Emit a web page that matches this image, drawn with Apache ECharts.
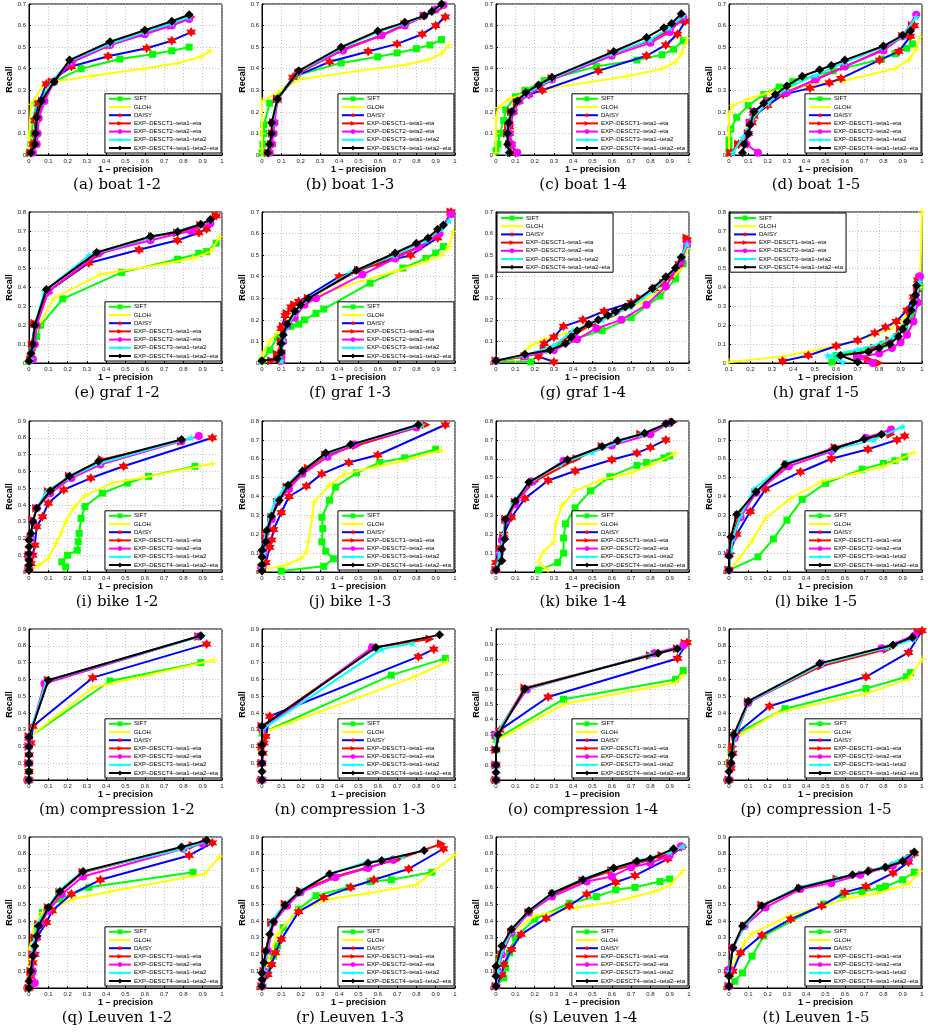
<!DOCTYPE html>
<html>
<head>
<meta charset="utf-8">
<script src="https://cdn.jsdelivr.net/npm/echarts@6/dist/echarts.min.js"></script>
<style>
html, body { margin: 0; padding: 0; background: #fff; }
#main { width: 928px; height: 1036px; }
</style>
</head>
<body>
<div id="main"></div>
<script>
// descriptor names, in legend order
var names = ['SIFT', 'GLOH', 'DAISY',
  'EXP\u2013DESCT1\u2013teta1\u2013eta', 'EXP\u2013DESCT2\u2013teta2\u2013eta',
  'EXP\u2013DESCT3\u2013teta1\u2013teta2', 'EXP\u2013DESCT4\u2013teta1\u2013teta2\u2013eta'];

var captions = ['(a) boat 1-2', '(b) boat 1-3', '(c) boat 1-4', '(d) boat 1-5',
  '(e) graf 1-2', '(f) graf 1-3', '(g) graf 1-4', '(h) graf 1-5',
  '(i) bike 1-2', '(j) bike 1-3', '(k) bike 1-4', '(l) bike 1-5',
  '(m) compression 1-2', '(n) compression 1-3', '(o) compression 1-4', '(p) compression 1-5',
  '(q) Leuven 1-2', '(r) Leuven 1-3', '(s) Leuven 1-4', '(t) Leuven 1-5'];

var yMax = [0.7, 0.7, 0.7, 0.7, 0.8, 0.7, 0.7, 0.8, 0.9, 0.8, 0.8, 0.8, 0.9, 0.9, 1, 0.9, 0.9, 0.9, 0.9, 0.9];
var xMin = [0, 0, 0, 0, 0, 0, 0, 0.1, 0, 0, 0, 0, 0, 0, 0, 0, 0, 0, 0, 0];
var legendAtTop = [6, 7];

// each panel: [SIFT, GLOH, DAISY, DESCT1, DESCT2, DESCT3, DESCT4], points are [1-precision, recall]
var boat12 = [
  [[0,0.01],[0.01,0.05],[0.015,0.1],[0.02,0.16],[0.04,0.24],[0.13,0.34],[0.27,0.40],[0.47,0.445],[0.64,0.467],[0.74,0.483],[0.83,0.50]],
  [[0,0.02],[0,0.08],[0.005,0.15],[0.01,0.235],[0.07,0.32],[0.13,0.34],[0.32,0.366],[0.59,0.40],[0.77,0.425],[0.89,0.455],[0.94,0.483]],
  [[0.01,0.01],[0.02,0.05],[0.035,0.10],[0.03,0.16],[0.05,0.24],[0.09,0.33],[0.22,0.41],[0.41,0.458],[0.61,0.495],[0.74,0.53],[0.84,0.57]],
  [[0.01,0.01],[0.03,0.05],[0.04,0.10],[0.05,0.18],[0.07,0.25],[0.12,0.34],[0.22,0.43],[0.42,0.51],[0.60,0.565],[0.74,0.60],[0.84,0.64]],
  [[0.02,0.01],[0.04,0.05],[0.045,0.10],[0.05,0.17],[0.08,0.25],[0.13,0.34],[0.22,0.43],[0.42,0.51],[0.60,0.56],[0.74,0.60],[0.83,0.63]],
  [[0.01,0.01],[0.03,0.05],[0.035,0.1],[0.04,0.17],[0.065,0.25],[0.12,0.34],[0.21,0.435],[0.42,0.515],[0.60,0.57],[0.74,0.61],[0.83,0.64]],
  [[0.01,0.01],[0.03,0.05],[0.035,0.10],[0.04,0.175],[0.065,0.25],[0.13,0.34],[0.21,0.44],[0.42,0.525],[0.60,0.578],[0.74,0.62],[0.83,0.65]]
];
var boat13 = [
  [[0,0.01],[0.005,0.05],[0.01,0.1],[0.01,0.14],[0.04,0.24],[0.18,0.37],[0.41,0.427],[0.6,0.455],[0.7,0.473],[0.8,0.493],[0.87,0.51],[0.93,0.535]],
  [[0,0.01],[0,0.1],[0,0.25],[0.1,0.30],[0.19,0.35],[0.5,0.39],[0.75,0.42],[0.86,0.44],[0.93,0.47],[0.97,0.51]],
  [[0.035,0.01],[0.05,0.05],[0.055,0.1],[0.06,0.15],[0.08,0.255],[0.16,0.36],[0.35,0.432],[0.55,0.48],[0.7,0.515],[0.83,0.56],[0.9,0.60],[0.95,0.64]],
  [[0.035,0.01],[0.05,0.05],[0.055,0.1],[0.06,0.15],[0.08,0.26],[0.19,0.38],[0.42,0.49],[0.62,0.555],[0.74,0.605],[0.84,0.645],[0.9,0.67],[0.94,0.69]],
  [[0.04,0.01],[0.05,0.05],[0.06,0.1],[0.065,0.15],[0.08,0.26],[0.19,0.385],[0.42,0.485],[0.62,0.555],[0.74,0.6],[0.84,0.645],[0.9,0.675],[0.94,0.695]],
  [[0.03,0.01],[0.04,0.05],[0.05,0.1],[0.055,0.15],[0.08,0.26],[0.19,0.385],[0.41,0.495],[0.6,0.57],[0.74,0.61],[0.84,0.645],[0.88,0.665],[0.93,0.695]],
  [[0.03,0.01],[0.04,0.05],[0.05,0.1],[0.05,0.15],[0.08,0.26],[0.19,0.39],[0.41,0.50],[0.6,0.575],[0.74,0.615],[0.84,0.645],[0.88,0.665],[0.93,0.70]]
];
var boat14 = [
  [[0,0.02],[0.01,0.05],[0.02,0.1],[0.04,0.16],[0.05,0.21],[0.1,0.27],[0.15,0.30],[0.25,0.345],[0.52,0.41],[0.73,0.44],[0.86,0.465],[0.92,0.49],[0.97,0.53]],
  [[0,0.01],[0,0.1],[0,0.17],[0.01,0.22],[0.07,0.26],[0.14,0.28],[0.28,0.31],[0.68,0.365],[0.86,0.4],[0.93,0.43],[0.96,0.47],[0.99,0.54]],
  [[0.1,0.01],[0.08,0.05],[0.07,0.1],[0.07,0.13],[0.09,0.2],[0.12,0.25],[0.17,0.28],[0.24,0.30],[0.53,0.39],[0.78,0.46],[0.88,0.51],[0.94,0.56],[0.98,0.62]],
  [[0.08,0.01],[0.07,0.05],[0.06,0.1],[0.065,0.13],[0.08,0.2],[0.11,0.245],[0.16,0.28],[0.29,0.355],[0.6,0.47],[0.8,0.53],[0.9,0.58],[0.97,0.63]],
  [[0.11,0.01],[0.08,0.05],[0.07,0.1],[0.07,0.15],[0.09,0.2],[0.12,0.25],[0.17,0.28],[0.29,0.35],[0.6,0.46],[0.8,0.52],[0.9,0.57],[0.97,0.64]],
  [[0.06,0.01],[0.06,0.05],[0.055,0.1],[0.06,0.15],[0.08,0.2],[0.11,0.25],[0.16,0.285],[0.29,0.355],[0.6,0.47],[0.8,0.535],[0.9,0.59],[0.97,0.645]],
  [[0.07,0.01],[0.06,0.05],[0.06,0.1],[0.065,0.15],[0.08,0.2],[0.11,0.25],[0.155,0.29],[0.22,0.325],[0.29,0.36],[0.61,0.48],[0.78,0.545],[0.87,0.59],[0.91,0.61],[0.96,0.655]]
];
var boat15 = [
  [[0,0.01],[0,0.04],[0,0.07],[0.01,0.12],[0.04,0.175],[0.1,0.23],[0.18,0.28],[0.26,0.315],[0.33,0.34],[0.54,0.39],[0.79,0.445],[0.86,0.47],[0.92,0.495],[0.95,0.515]],
  [[0,0.01],[0,0.12],[0,0.19],[0.02,0.23],[0.1,0.26],[0.21,0.29],[0.38,0.32],[0.6,0.345],[0.86,0.40],[0.93,0.44],[0.97,0.49],[0.99,0.55]],
  [[0.01,0.01],[0.05,0.05],[0.1,0.1],[0.12,0.15],[0.13,0.18],[0.2,0.23],[0.28,0.28],[0.42,0.31],[0.52,0.335],[0.58,0.355],[0.78,0.44],[0.88,0.48],[0.94,0.55],[0.96,0.6]],
  [[0.01,0.01],[0.05,0.05],[0.1,0.1],[0.11,0.15],[0.13,0.2],[0.2,0.25],[0.3,0.29],[0.45,0.35],[0.6,0.41],[0.8,0.49],[0.9,0.55],[0.95,0.6]],
  [[0.15,0.01],[0.09,0.05],[0.1,0.1],[0.11,0.15],[0.13,0.2],[0.2,0.25],[0.3,0.29],[0.45,0.35],[0.6,0.41],[0.8,0.485],[0.9,0.55],[0.97,0.65]],
  [[0.02,0.01],[0.07,0.08],[0.1,0.12],[0.12,0.17],[0.2,0.24],[0.3,0.31],[0.45,0.37],[0.6,0.43],[0.8,0.5],[0.9,0.55],[0.97,0.64]],
  [[0.07,0.01],[0.08,0.05],[0.1,0.1],[0.11,0.14],[0.13,0.2],[0.18,0.24],[0.24,0.28],[0.3,0.32],[0.38,0.365],[0.47,0.395],[0.53,0.415],[0.6,0.44],[0.8,0.505],[0.9,0.555],[0.94,0.575]]
];
var graf12 = [
  [[0,0.01],[0.02,0.08],[0.04,0.14],[0.06,0.2],[0.175,0.34],[0.48,0.48],[0.77,0.55],[0.88,0.58],[0.92,0.59],[0.97,0.635]],
  [[0,0.01],[0.02,0.1],[0.05,0.2],[0.13,0.345],[0.37,0.47],[0.7,0.525],[0.85,0.555],[0.94,0.59],[0.99,0.67]],
  [[0.01,0.02],[0.015,0.1],[0.03,0.2],[0.1,0.38],[0.31,0.53],[0.57,0.6],[0.77,0.65],[0.88,0.69],[0.92,0.71],[0.97,0.78]],
  [[0.01,0.02],[0.02,0.1],[0.03,0.21],[0.1,0.38],[0.37,0.58],[0.64,0.67],[0.77,0.69],[0.89,0.73],[0.97,0.78]],
  [[0.02,0.02],[0.03,0.1],[0.04,0.2],[0.1,0.38],[0.36,0.58],[0.63,0.65],[0.84,0.70],[0.94,0.74]],
  [[0.01,0.02],[0.02,0.1],[0.03,0.2],[0.08,0.38],[0.31,0.57],[0.63,0.665],[0.77,0.70],[0.89,0.735],[0.94,0.76]],
  [[0,0.01],[0.01,0.05],[0.02,0.1],[0.03,0.2],[0.09,0.39],[0.35,0.585],[0.63,0.67],[0.77,0.695],[0.89,0.735],[0.94,0.76]]
];
var graf13 = [
  [[0,0.01],[0.04,0.06],[0.08,0.12],[0.15,0.17],[0.19,0.18],[0.22,0.2],[0.28,0.23],[0.32,0.25],[0.56,0.37],[0.73,0.44],[0.85,0.485],[0.9,0.51],[0.94,0.54]],
  [[0,0.02],[0,0.04],[0.04,0.1],[0.09,0.15],[0.16,0.23],[0.25,0.3],[0.44,0.36],[0.69,0.425],[0.85,0.47],[0.93,0.5],[0.97,0.54],[0.99,0.61]],
  [[0.09,0.01],[0.1,0.05],[0.1,0.1],[0.1,0.16],[0.12,0.22],[0.15,0.26],[0.19,0.285],[0.4,0.4],[0.6,0.46],[0.77,0.50],[0.91,0.58],[0.98,0.70]],
  [[0.05,0.01],[0.08,0.04],[0.1,0.1],[0.11,0.17],[0.13,0.23],[0.17,0.27],[0.24,0.30],[0.5,0.43],[0.68,0.49],[0.82,0.54],[0.92,0.6],[0.98,0.70]],
  [[0.1,0.01],[0.1,0.03],[0.11,0.1],[0.13,0.17],[0.17,0.21],[0.22,0.27],[0.28,0.3],[0.52,0.41],[0.69,0.485],[0.81,0.535],[0.92,0.6],[0.98,0.69]],
  [[0.1,0.01],[0.1,0.05],[0.11,0.1],[0.13,0.17],[0.17,0.23],[0.24,0.3],[0.46,0.42],[0.69,0.5],[0.85,0.57],[0.93,0.62],[0.97,0.66]],
  [[0,0.01],[0.08,0.02],[0.1,0.05],[0.1,0.09],[0.11,0.13],[0.13,0.18],[0.17,0.24],[0.2,0.27],[0.24,0.3],[0.49,0.43],[0.69,0.51],[0.8,0.555],[0.86,0.58],[0.91,0.62],[0.94,0.64]]
];
var graf14 = [
  [[0,0.01],[0.18,0.005],[0.25,0.06],[0.4,0.11],[0.55,0.15],[0.7,0.21],[0.85,0.31],[0.93,0.39],[0.97,0.46],[0.99,0.54]],
  [[0,0.01],[0.1,0.02],[0.18,0.08],[0.25,0.11],[0.45,0.16],[0.6,0.22],[0.75,0.28],[0.87,0.35],[0.95,0.43],[0.99,0.53]],
  [[0.3,0.005],[0.22,0.03],[0.25,0.09],[0.3,0.12],[0.35,0.17],[0.45,0.2],[0.56,0.24],[0.7,0.28],[0.82,0.345],[0.9,0.4],[0.95,0.46],[0.99,0.57]],
  [[0,0.01],[0.15,0.03],[0.25,0.06],[0.4,0.13],[0.5,0.18],[0.62,0.23],[0.75,0.3],[0.87,0.37],[0.95,0.45],[0.99,0.58]],
  [[0,0.01],[0.15,0.03],[0.3,0.06],[0.42,0.11],[0.52,0.16],[0.65,0.2],[0.78,0.27],[0.88,0.355],[0.96,0.47],[0.99,0.55]],
  [[0,0.01],[0.15,0.035],[0.3,0.08],[0.4,0.15],[0.55,0.2],[0.7,0.26],[0.82,0.34],[0.93,0.44],[0.99,0.55]],
  [[0,0.01],[0.15,0.04],[0.28,0.06],[0.36,0.09],[0.39,0.12],[0.42,0.15],[0.48,0.18],[0.53,0.2],[0.58,0.22],[0.62,0.24],[0.67,0.26],[0.7,0.27],[0.81,0.345],[0.88,0.4],[0.93,0.44],[0.96,0.49]]
];
var graf15 = [
  [[0.58,0.005],[0.6,0.04],[0.75,0.07],[0.82,0.1],[0.88,0.14],[0.92,0.18],[0.95,0.25],[0.97,0.33],[0.99,0.4]],
  [[0.1,0.005],[0.35,0.035],[0.6,0.09],[0.75,0.14],[0.85,0.18],[0.92,0.24],[0.96,0.3],[0.99,0.4],[1.0,0.8]],
  [[0.35,0.01],[0.47,0.04],[0.6,0.09],[0.7,0.12],[0.78,0.16],[0.83,0.19],[0.88,0.22],[0.93,0.28],[0.96,0.35],[0.98,0.44]],
  [[0.8,0.0],[0.75,0.02],[0.7,0.045],[0.78,0.08],[0.85,0.12],[0.9,0.18],[0.95,0.27],[0.98,0.38],[0.99,0.45]],
  [[0.77,0.0],[0.7,0.03],[0.8,0.05],[0.86,0.08],[0.9,0.11],[0.93,0.15],[0.96,0.22],[0.98,0.32],[0.99,0.46]],
  [[0.63,0.005],[0.56,0.04],[0.7,0.07],[0.8,0.1],[0.87,0.14],[0.92,0.2],[0.96,0.28],[0.99,0.43]],
  [[0.7,0.005],[0.62,0.04],[0.75,0.06],[0.8,0.08],[0.85,0.1],[0.89,0.14],[0.91,0.18],[0.93,0.22],[0.95,0.28],[0.96,0.32],[0.97,0.36],[0.975,0.41]]
];
var bike12 = [
  [[0.19,0.03],[0.17,0.06],[0.2,0.1],[0.25,0.13],[0.255,0.18],[0.26,0.23],[0.27,0.32],[0.29,0.39],[0.38,0.47],[0.51,0.53],[0.62,0.57],[0.86,0.63]],
  [[0,0.01],[0.05,0.04],[0.1,0.08],[0.14,0.17],[0.17,0.24],[0.19,0.3],[0.23,0.38],[0.29,0.455],[0.43,0.53],[0.58,0.56],[0.95,0.645]],
  [[0,0.01],[0.01,0.05],[0.02,0.1],[0.03,0.16],[0.04,0.27],[0.07,0.33],[0.1,0.41],[0.18,0.49],[0.32,0.56],[0.49,0.63],[0.95,0.80]],
  [[0,0.02],[0,0.1],[0.01,0.2],[0.02,0.31],[0.04,0.38],[0.1,0.48],[0.21,0.57],[0.38,0.67],[0.79,0.78]],
  [[0,0.02],[0,0.1],[0.01,0.2],[0.02,0.3],[0.04,0.38],[0.11,0.47],[0.22,0.56],[0.37,0.64],[0.79,0.78],[0.88,0.81]],
  [[0,0.02],[0,0.1],[0.01,0.2],[0.02,0.3],[0.04,0.38],[0.09,0.48],[0.2,0.56],[0.37,0.65],[0.84,0.80]],
  [[0,0.01],[0,0.04],[0,0.07],[0,0.11],[0,0.15],[0,0.19],[0.01,0.23],[0.02,0.3],[0.04,0.38],[0.11,0.485],[0.21,0.57],[0.36,0.66],[0.79,0.79]]
];
var bike13 = [
  [[0.1,0.005],[0.32,0.03],[0.37,0.07],[0.33,0.11],[0.31,0.16],[0.315,0.23],[0.31,0.29],[0.35,0.38],[0.38,0.45],[0.49,0.525],[0.61,0.58],[0.74,0.605],[0.9,0.65]],
  [[0,0.01],[0.13,0.04],[0.2,0.07],[0.23,0.11],[0.24,0.16],[0.26,0.29],[0.27,0.37],[0.35,0.46],[0.43,0.52],[0.6,0.56],[0.7,0.58],[0.93,0.645]],
  [[0,0.01],[0.02,0.05],[0.04,0.13],[0.05,0.17],[0.06,0.225],[0.1,0.315],[0.14,0.40],[0.23,0.455],[0.31,0.52],[0.45,0.58],[0.6,0.62],[0.95,0.78]],
  [[0,0.02],[0.01,0.1],[0.02,0.2],[0.05,0.29],[0.08,0.37],[0.13,0.45],[0.24,0.55],[0.33,0.62],[0.49,0.67],[0.85,0.78]],
  [[0,0.02],[0.01,0.1],[0.02,0.16],[0.05,0.28],[0.08,0.37],[0.14,0.44],[0.21,0.52],[0.34,0.61],[0.48,0.675],[0.8,0.765]],
  [[0,0.02],[0.01,0.1],[0.02,0.2],[0.04,0.3],[0.07,0.38],[0.12,0.45],[0.2,0.53],[0.33,0.625],[0.46,0.675],[0.83,0.78]],
  [[0,0.005],[0,0.04],[0,0.08],[0,0.115],[0.02,0.16],[0.025,0.22],[0.05,0.295],[0.09,0.38],[0.135,0.46],[0.21,0.535],[0.33,0.63],[0.46,0.675],[0.81,0.78]]
];
var bike14 = [
  [[0.22,0.01],[0.32,0.05],[0.35,0.1],[0.35,0.18],[0.36,0.255],[0.41,0.34],[0.49,0.43],[0.59,0.505],[0.73,0.565],[0.78,0.58],[0.87,0.605],[0.9,0.615]],
  [[0.27,0.01],[0.22,0.05],[0.24,0.1],[0.3,0.16],[0.31,0.255],[0.34,0.35],[0.41,0.43],[0.55,0.49],[0.7,0.525],[0.8,0.565],[0.93,0.63]],
  [[0,0.01],[0,0.05],[0.02,0.12],[0.04,0.2],[0.08,0.29],[0.15,0.39],[0.27,0.485],[0.41,0.535],[0.6,0.595],[0.73,0.63],[0.8,0.66],[0.88,0.7]],
  [[0,0.01],[0.03,0.06],[0.03,0.12],[0.04,0.18],[0.05,0.28],[0.1,0.37],[0.2,0.48],[0.42,0.6],[0.55,0.665],[0.75,0.73],[0.92,0.795]],
  [[0,0.01],[0.02,0.1],[0.03,0.17],[0.05,0.27],[0.1,0.36],[0.19,0.48],[0.35,0.59],[0.6,0.67],[0.8,0.73],[0.9,0.79]],
  [[0,0.01],[0.02,0.1],[0.04,0.2],[0.05,0.28],[0.09,0.37],[0.17,0.47],[0.33,0.57],[0.5,0.635],[0.75,0.73],[0.9,0.79]],
  [[0,0.01],[0.03,0.06],[0.03,0.12],[0.045,0.175],[0.05,0.28],[0.1,0.375],[0.17,0.475],[0.37,0.595],[0.55,0.665],[0.63,0.695],[0.77,0.735],[0.88,0.785],[0.91,0.795]]
];
var bike15 = [
  [[0,0.01],[0.15,0.08],[0.23,0.175],[0.3,0.275],[0.38,0.385],[0.5,0.47],[0.69,0.545],[0.8,0.575],[0.86,0.59],[0.91,0.61]],
  [[0,0.01],[0.05,0.07],[0.12,0.165],[0.19,0.285],[0.32,0.39],[0.48,0.48],[0.65,0.52],[0.8,0.56],[0.87,0.59],[0.96,0.635]],
  [[0,0.01],[0,0.09],[0.04,0.2],[0.11,0.32],[0.19,0.44],[0.37,0.53],[0.53,0.6],[0.72,0.65],[0.87,0.7],[0.91,0.72]],
  [[0,0.01],[0.01,0.1],[0.02,0.18],[0.05,0.3],[0.14,0.42],[0.3,0.57],[0.55,0.66],[0.72,0.71],[0.84,0.73]],
  [[0,0.01],[0,0.09],[0.02,0.18],[0.06,0.29],[0.14,0.42],[0.31,0.56],[0.53,0.64],[0.71,0.71],[0.84,0.755]],
  [[0,0.01],[0.01,0.12],[0.02,0.18],[0.06,0.3],[0.13,0.44],[0.3,0.58],[0.55,0.65],[0.75,0.7],[0.9,0.77]],
  [[0,0.01],[0,0.085],[0.01,0.185],[0.04,0.305],[0.14,0.425],[0.29,0.57],[0.55,0.655],[0.7,0.705],[0.79,0.73]]
];
var comp12 = [
  [[0,0],[0,0.05],[0,0.1],[0,0.2],[0,0.255],[0.42,0.59],[0.89,0.70]],
  [[0,0],[0,0.1],[0,0.255],[0.33,0.55],[0.96,0.715]],
  [[0,0],[0,0.05],[0,0.1],[0,0.15],[0.01,0.22],[0.02,0.32],[0.33,0.61],[0.92,0.81]],
  [[0,0],[0,0.1],[0,0.2],[0,0.26],[0.1,0.595],[0.88,0.855]],
  [[0,0],[0,0.1],[0,0.2],[0,0.25],[0.08,0.575],[0.88,0.855]],
  [[0,0],[0,0.1],[0,0.2],[0,0.26],[0.09,0.59],[0.9,0.86]],
  [[0,0],[0,0.05],[0,0.1],[0,0.15],[0,0.2],[0,0.255],[0.1,0.595],[0.89,0.86]]
];
var comp13 = [
  [[0,0],[0,0.1],[0,0.28],[0.67,0.625],[0.95,0.725]],
  [[0,0],[0,0.1],[0,0.28],[0.78,0.61],[0.96,0.705]],
  [[0,0],[0,0.1],[0.005,0.16],[0.01,0.22],[0.02,0.26],[0.04,0.38],[0.81,0.735],[0.89,0.78]],
  [[0,0],[0,0.1],[0,0.2],[0,0.32],[0.58,0.79],[0.87,0.84]],
  [[0,0],[0,0.1],[0,0.3],[0.57,0.79]],
  [[0,0],[0,0.1],[0,0.3],[0.62,0.78],[0.78,0.815]],
  [[0,0],[0,0.05],[0,0.1],[0,0.16],[0,0.21],[0,0.32],[0.59,0.79],[0.92,0.865]]
];
var comp14 = [
  [[0,0],[0,0.1],[0,0.2],[0,0.27],[0.35,0.535],[0.93,0.665],[0.97,0.725]],
  [[0,0],[0,0.1],[0,0.26],[0.36,0.505],[0.93,0.645],[0.97,0.69]],
  [[0,0],[0,0.1],[0,0.2],[0.02,0.33],[0.27,0.55],[0.94,0.805],[0.99,0.91]],
  [[0,0],[0,0.1],[0,0.2],[0,0.3],[0.15,0.61],[0.8,0.825],[0.94,0.87],[0.98,0.905]],
  [[0,0],[0,0.1],[0,0.3],[0.16,0.6],[0.82,0.84],[0.97,0.89]],
  [[0,0],[0,0.1],[0,0.3],[0.15,0.6],[0.8,0.83],[0.95,0.87]],
  [[0,0],[0,0.05],[0,0.1],[0,0.2],[0.01,0.3],[0.15,0.605],[0.84,0.84],[0.94,0.87]]
];
var comp15 = [
  [[0,0],[0,0.1],[0.01,0.18],[0.03,0.27],[0.29,0.425],[0.71,0.545],[0.92,0.615],[0.94,0.64]],
  [[0,0],[0,0.1],[0.03,0.25],[0.25,0.4],[0.71,0.515],[0.93,0.6],[1.0,0.72]],
  [[0,0],[0.01,0.07],[0.02,0.16],[0.03,0.27],[0.21,0.44],[0.71,0.615],[0.93,0.76],[1.0,0.89]],
  [[0,0],[0.01,0.1],[0.02,0.2],[0.04,0.28],[0.1,0.465],[0.48,0.68],[0.82,0.78],[0.98,0.88]],
  [[0,0],[0.01,0.1],[0.03,0.25],[0.1,0.46],[0.48,0.695],[0.79,0.785],[0.96,0.86]],
  [[0,0],[0.01,0.1],[0.03,0.26],[0.1,0.465],[0.48,0.69],[0.82,0.79],[0.96,0.84]],
  [[0,0],[0,0.05],[0.01,0.1],[0.015,0.15],[0.025,0.27],[0.1,0.47],[0.47,0.695],[0.85,0.805],[0.95,0.85]]
];
var leuven12 = [
  [[0,0],[0.01,0.1],[0.02,0.2],[0.04,0.35],[0.07,0.45],[0.16,0.53],[0.31,0.6],[0.85,0.69]],
  [[0,0],[0,0.1],[0,0.22],[0.03,0.38],[0.07,0.45],[0.23,0.53],[0.42,0.575],[0.91,0.68],[0.99,0.785]],
  [[0,0],[0.01,0.07],[0.02,0.15],[0.03,0.2],[0.04,0.3],[0.09,0.39],[0.12,0.46],[0.22,0.56],[0.37,0.645],[0.83,0.79],[0.95,0.865]],
  [[0,0],[0.01,0.1],[0.02,0.2],[0.03,0.3],[0.05,0.38],[0.1,0.48],[0.16,0.57],[0.28,0.69],[0.85,0.85],[0.92,0.87]],
  [[0.03,0.03],[0.02,0.1],[0.02,0.2],[0.04,0.3],[0.06,0.38],[0.1,0.46],[0.17,0.56],[0.28,0.665],[0.8,0.83],[0.9,0.86]],
  [[0,0],[0.01,0.1],[0.02,0.25],[0.04,0.38],[0.1,0.48],[0.16,0.585],[0.28,0.695],[0.8,0.83],[0.92,0.875]],
  [[0,0],[0,0.04],[0.01,0.1],[0.02,0.19],[0.03,0.25],[0.04,0.31],[0.05,0.37],[0.1,0.48],[0.16,0.575],[0.28,0.695],[0.79,0.84],[0.92,0.88]]
];
var leuven13 = [
  [[0,0.01],[0.03,0.1],[0.06,0.19],[0.08,0.25],[0.11,0.36],[0.19,0.47],[0.28,0.55],[0.45,0.6],[0.56,0.635],[0.67,0.645],[0.88,0.69]],
  [[0,0.01],[0.02,0.1],[0.04,0.2],[0.08,0.32],[0.18,0.46],[0.35,0.53],[0.55,0.565],[0.8,0.615],[1.0,0.795]],
  [[0,0.01],[0.03,0.08],[0.05,0.14],[0.07,0.21],[0.1,0.29],[0.19,0.455],[0.32,0.54],[0.46,0.6],[0.58,0.645],[0.76,0.71],[0.94,0.83]],
  [[0,0.01],[0.01,0.1],[0.02,0.22],[0.05,0.39],[0.12,0.5],[0.2,0.58],[0.38,0.665],[0.55,0.72],[0.7,0.765],[0.93,0.86]],
  [[0,0.01],[0.01,0.1],[0.03,0.22],[0.06,0.39],[0.13,0.49],[0.2,0.57],[0.38,0.66],[0.55,0.715],[0.68,0.765]],
  [[0,0.01],[0.01,0.1],[0.02,0.2],[0.05,0.4],[0.12,0.5],[0.2,0.58],[0.35,0.68],[0.54,0.75],[0.73,0.785]],
  [[0,0.01],[0,0.05],[0,0.09],[0.01,0.15],[0.02,0.22],[0.04,0.32],[0.06,0.395],[0.12,0.495],[0.19,0.57],[0.35,0.68],[0.55,0.745],[0.62,0.76],[0.84,0.82]]
];
var leuven14 = [
  [[0,0.01],[0.04,0.06],[0.05,0.12],[0.07,0.21],[0.1,0.3],[0.2,0.41],[0.38,0.505],[0.52,0.545],[0.62,0.585],[0.72,0.6],[0.85,0.635],[0.9,0.65]],
  [[0,0.01],[0,0.1],[0.01,0.2],[0.08,0.33],[0.2,0.43],[0.42,0.48],[0.6,0.51],[0.72,0.545],[0.82,0.575],[0.9,0.61],[0.97,0.7]],
  [[0,0.01],[0.03,0.08],[0.04,0.14],[0.08,0.23],[0.13,0.32],[0.26,0.415],[0.38,0.49],[0.47,0.56],[0.62,0.63],[0.72,0.67],[0.89,0.77],[0.96,0.84]],
  [[0,0.01],[0.01,0.1],[0.03,0.2],[0.08,0.33],[0.17,0.45],[0.3,0.56],[0.45,0.64],[0.6,0.7],[0.73,0.74],[0.86,0.79],[0.97,0.84]],
  [[0,0.01],[0.01,0.1],[0.03,0.2],[0.08,0.33],[0.17,0.45],[0.29,0.545],[0.47,0.635],[0.6,0.665],[0.7,0.72],[0.8,0.745],[0.9,0.79],[0.96,0.845]],
  [[0,0.01],[0.01,0.1],[0.03,0.22],[0.08,0.34],[0.17,0.46],[0.3,0.57],[0.45,0.65],[0.6,0.71],[0.74,0.76],[0.9,0.81],[0.97,0.845]],
  [[0,0.01],[0,0.07],[0,0.13],[0.03,0.25],[0.08,0.35],[0.17,0.46],[0.29,0.565],[0.45,0.645],[0.61,0.715],[0.73,0.755],[0.8,0.77],[0.92,0.83]]
];
var leuven15 = [
  [[0,0.01],[0.03,0.04],[0.07,0.09],[0.12,0.19],[0.18,0.31],[0.49,0.5],[0.59,0.555],[0.69,0.575],[0.78,0.595],[0.81,0.605],[0.9,0.645],[0.96,0.69]],
  [[0,0.01],[0,0.1],[0.04,0.18],[0.08,0.27],[0.12,0.325],[0.31,0.43],[0.62,0.535],[0.77,0.565],[0.93,0.62],[0.99,0.695]],
  [[0,0.01],[0,0.08],[0.02,0.1],[0.06,0.21],[0.17,0.315],[0.32,0.41],[0.48,0.49],[0.6,0.57],[0.71,0.605],[0.85,0.685],[0.93,0.75],[0.96,0.8]],
  [[0,0.01],[0,0.1],[0.02,0.24],[0.08,0.37],[0.17,0.495],[0.37,0.595],[0.56,0.65],[0.74,0.7],[0.83,0.72],[0.92,0.76],[0.96,0.8]],
  [[0,0.01],[0,0.11],[0.02,0.24],[0.08,0.37],[0.19,0.48],[0.37,0.59],[0.53,0.625],[0.68,0.675],[0.85,0.73],[0.93,0.775]],
  [[0,0.01],[0,0.1],[0.02,0.24],[0.08,0.37],[0.17,0.49],[0.36,0.6],[0.56,0.655],[0.8,0.72],[0.95,0.8]],
  [[0,0.01],[0,0.07],[0.02,0.24],[0.07,0.37],[0.17,0.49],[0.36,0.595],[0.64,0.675],[0.72,0.695],[0.81,0.72],[0.9,0.755],[0.96,0.81]]
];

var panels = [boat12, boat13, boat14, boat15, graf12, graf13, graf14, graf15,
  bike12, bike13, bike14, bike15, comp12, comp13, comp14, comp15,
  leuven12, leuven13, leuven14, leuven15];

// marker shapes
var plusPath = 'path://M4.4,0H5.6V4.4H10V5.6H5.6V10H4.4V5.6H0V4.4H4.4Z';
var hexPath = 'path://M5,0L6.4,2.6L9.3,2.5L7.8,5L9.3,7.5L6.4,7.4L5,10L3.6,7.4L0.7,7.5L2.2,5L0.7,2.5L3.6,2.6Z';
var triPath = 'path://M0,0L10,5L0,10Z';
var starPath = 'path://M5,0L6.2,3.6L10,3.6L6.9,5.9L8.1,9.5L5,7.3L1.9,9.5L3.1,5.9L0,3.6L3.8,3.6Z';
var styles = [
  { line: '#00ff00', mark: '#00ff00', symbol: 'rect', size: 7 },
  { line: '#ffff00', mark: '#ffff00', symbol: plusPath, size: 8 },
  { line: '#0000ff', mark: '#ff0000', symbol: hexPath, size: 10 },
  { line: '#ff0000', mark: '#ff0000', symbol: triPath, size: 9 },
  { line: '#ff00ff', mark: '#ff00ff', symbol: 'circle', size: 8 },
  { line: '#00ffff', mark: '#00ffff', symbol: starPath, size: 8 },
  { line: '#000000', mark: '#000000', symbol: 'diamond', size: 9 }
];

var W = 928, H = 1036;
var gridW = 193, gridH = 151;
var colLeft = [29, 262, 496, 729];
var rowTop = [4, 212, 421, 629, 837];

var chart = echarts.init(document.getElementById('main'), null, { renderer: 'canvas' });

var grids = [], xAxes = [], yAxes = [], series = [], legends = [], graphics = [];
var tickFont = { fontSize: 6, color: '#222', fontFamily: 'Liberation Sans' };
var nameFont = { fontSize: 9, fontWeight: 'bold', color: '#000', fontFamily: 'Liberation Sans' };
var gridLine = { show: true, lineStyle: { color: '#b8b8b8', type: [1, 2], width: 0.8 } };

panels.forEach(function (panel, i) {
  var col = i % 4, row = Math.floor(i / 4);
  var left = colLeft[col], top = rowTop[row];
  grids.push({ left: left, top: top, width: gridW, height: gridH, show: true,
    borderColor: '#000', borderWidth: 1, backgroundColor: '#fff' });
  xAxes.push({
    type: 'value', gridIndex: i, min: xMin[i], max: 1, interval: 0.1,
    name: '1 \u2013 precision', nameLocation: 'middle', nameGap: 8, nameTextStyle: nameFont,
    axisLine: { lineStyle: { color: '#000', width: 1 } },
    axisTick: { inside: true, length: 2, lineStyle: { color: '#000' } },
    axisLabel: Object.assign({ margin: 3 }, tickFont),
    splitLine: gridLine
  });
  yAxes.push({
    type: 'value', gridIndex: i, min: 0, max: yMax[i], interval: 0.1,
    name: 'Recall', nameLocation: 'middle', nameGap: 15, nameTextStyle: nameFont,
    axisLine: { lineStyle: { color: '#000', width: 1 } },
    axisTick: { inside: true, length: 2, lineStyle: { color: '#000' } },
    axisLabel: Object.assign({ margin: 3 }, tickFont),
    splitLine: gridLine
  });
  panel.forEach(function (pts, s) {
    var st = styles[s];
    series.push({
      name: names[s], type: 'line', xAxisIndex: i, yAxisIndex: i,
      data: pts, symbol: st.symbol, symbolSize: st.size, showAllSymbol: true,
      clip: false, animation: false, z: 2 + s * 0.01,
      lineStyle: { color: st.line, width: 2 },
      itemStyle: { color: st.mark, borderWidth: 0 }
    });
  });
  var lg = {
    orient: 'vertical', data: names, selectedMode: false,
    itemWidth: 22, itemHeight: 6, itemGap: 2.2,
    padding: [2, 3, 2, 3], borderColor: '#000', borderWidth: 1, backgroundColor: '#fff',
    textStyle: { fontSize: 6, lineHeight: 6, color: '#000', fontFamily: 'Liberation Sans', padding: [0, 0, 0, -2] },
    z: 10
  };
  if (legendAtTop.indexOf(i) >= 0) {
    lg.left = left + 1;
    lg.top = top + 1;
  } else {
    lg.right = W - (left + gridW) + 1;
    lg.bottom = H - (top + gridH) + 2;
  }
  legends.push(lg);
  graphics.push({
    type: 'text', x: col * 233 + 117, y: top + 181, z: 10,
    style: { text: captions[i], font: '15px "DejaVu Serif"', fill: '#000',
      textAlign: 'center', textVerticalAlign: 'middle', align: 'center', verticalAlign: 'middle' }
  });
});

chart.setOption({
  backgroundColor: '#fff',
  animation: false,
  grid: grids,
  xAxis: xAxes,
  yAxis: yAxes,
  legend: legends,
  series: series,
  graphic: graphics
});
</script>
</body>
</html>
